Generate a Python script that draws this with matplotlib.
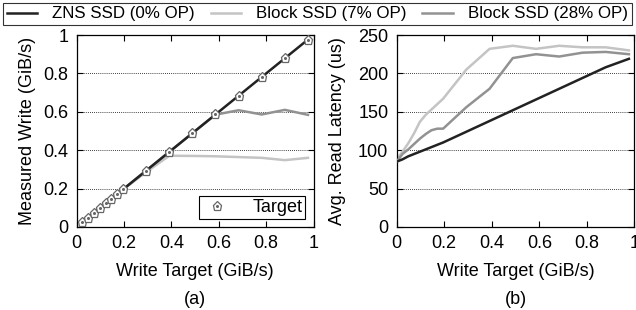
import matplotlib
matplotlib.use('Agg')
import matplotlib.pyplot as plt
from matplotlib.legend_handler import HandlerTuple

plt.rcParams['font.family'] = ['Liberation Sans', 'DejaVu Sans']
plt.rcParams['font.size'] = 13

# write targets in MiB/s -> GiB/s
target_mib = [25, 50, 75, 100, 125, 150, 175, 200, 300, 400, 500, 600, 700, 800, 900, 1000]
target = [t / 1024.0 for t in target_mib]

# (a) measured write throughput
zns_write = list(target)
blk7_write = [0.0244, 0.0488, 0.0732, 0.0977, 0.122, 0.146, 0.171, 0.195, 0.285, 0.371,
              0.370, 0.368, 0.364, 0.360, 0.348, 0.360]
blk28_write = [0.0244, 0.0488, 0.0732, 0.0977, 0.122, 0.146, 0.171, 0.195, 0.293, 0.391,
               0.488, 0.585, 0.608, 0.586, 0.610, 0.584]

# (b) average read latency, starts at zero write load
lat_x = [0.0] + target
zns_lat = [85, 88, 92, 95, 98, 101, 104, 107, 110, 124, 138, 152, 166, 180, 194, 208, 219]
blk7_lat = [88, 98, 109, 122, 137, 146, 153, 160, 167, 205, 232, 236, 232, 236, 234, 234, 230]
blk28_lat = [85, 95, 101, 108, 115, 121, 126, 128, 128, 156, 180, 220, 225, 222, 227, 228, 225]

c_zns = '#222222'
c_b7 = '#c4c4c4'
c_b28 = '#929292'
lw = 1.8

fig = plt.figure(figsize=(6.36, 3.10), dpi=100)
ax1 = fig.add_axes([0.1206, 0.268, 0.3724, 0.619])
ax2 = fig.add_axes([0.6237, 0.268, 0.3739, 0.619])

l1, = ax1.plot(target, zns_write, color=c_zns, lw=lw, zorder=4)
l2, = ax1.plot(target, blk7_write, color=c_b7, lw=lw, zorder=2)
l3, = ax1.plot(target, blk28_write, color=c_b28, lw=lw, zorder=3)
mk, = ax1.plot(target, target, linestyle='none', marker='p', markersize=6.5,
               markerfacecolor='white', markeredgecolor='#666666', markeredgewidth=0.9,
               zorder=5)
dot, = ax1.plot(target, target, linestyle='none', marker='o', markersize=1.2,
                color='#666666', zorder=6)
ax1.set_xlim(0, 1)
ax1.set_ylim(0, 1)
ax1.set_xticks([0, 0.2, 0.4, 0.6, 0.8, 1])
ax1.set_xticklabels(['0', '0.2', '0.4', '0.6', '0.8', '1'])
ax1.set_yticks([0, 0.2, 0.4, 0.6, 0.8, 1])
ax1.set_yticklabels(['0', '0.2', '0.4', '0.6', '0.8', '1'])
ax1.set_xlabel('Write Target (GiB/s)', labelpad=8)
ax1.set_ylabel('Measured Write (GiB/s)', labelpad=5)
leg = ax1.legend([(mk, dot)], ['Target'], handler_map={tuple: HandlerTuple(ndivide=1)},
                 loc='lower right', frameon=True, fancybox=False, framealpha=1,
                 edgecolor='black', borderpad=0.15, handletextpad=1.2, borderaxespad=0.45,
                 handlelength=1.6)
leg.get_frame().set_linewidth(0.8)

ax2.plot(lat_x, zns_lat, color=c_zns, lw=lw, zorder=4)
ax2.plot(lat_x, blk7_lat, color=c_b7, lw=lw, zorder=2)
ax2.plot(lat_x, blk28_lat, color=c_b28, lw=lw, zorder=3)
ax2.set_xlim(0, 1)
ax2.set_ylim(0, 250)
ax2.set_xticks([0, 0.2, 0.4, 0.6, 0.8, 1])
ax2.set_xticklabels(['0', '0.2', '0.4', '0.6', '0.8', '1'])
ax2.set_yticks([0, 50, 100, 150, 200, 250])
ax2.set_xlabel('Write Target (GiB/s)', labelpad=8)
ax2.set_ylabel('Avg. Read Latency (us)', labelpad=9)

for ax in (ax1, ax2):
    ax.grid(axis='y', linestyle=(0, (1, 1.5)), color='black', linewidth=0.6)
    ax.tick_params(direction='in', top=True, right=True, length=4, width=0.8, pad=6)
    for s in ax.spines.values():
        s.set_linewidth(0.9)

fig.text(0.307, 0.006, '(a)', ha='center', va='bottom')
fig.text(0.811, 0.006, '(b)', ha='center', va='bottom')

fl = fig.legend([l1, l2, l3], ['ZNS SSD (0% OP)', 'Block SSD (7% OP)', 'Block SSD (28% OP)'],
                loc='upper left', bbox_to_anchor=(0.005, 0.99, 0.988, 0.0), mode='expand',
                ncol=3, frameon=True, fancybox=False, edgecolor='black', borderpad=0.2,
                handlelength=1.8, handletextpad=0.9, borderaxespad=0.0, fontsize=12.2)
fl.get_frame().set_linewidth(0.8)

fig.savefig('out.png', dpi=100)
